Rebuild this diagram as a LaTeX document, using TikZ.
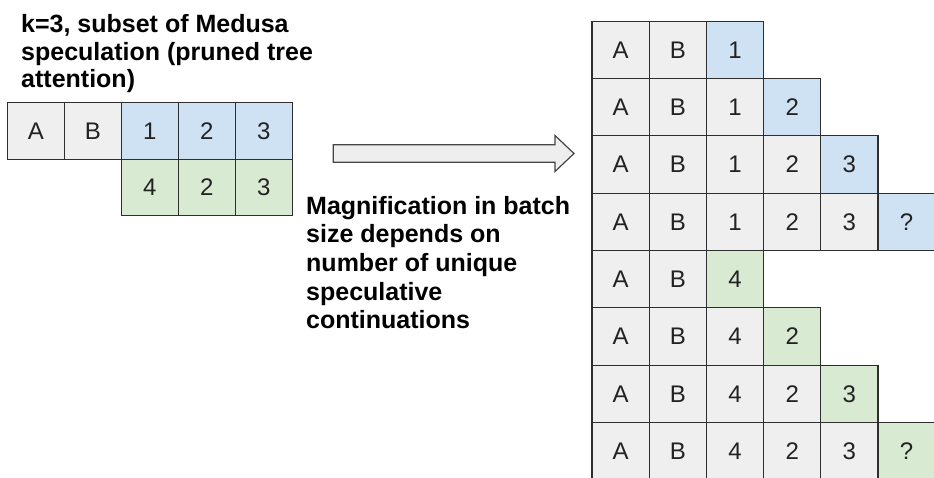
\documentclass[tikz,border=0pt]{standalone}
\usepackage{fontspec}
\setmainfont{Liberation Sans}
\definecolor{cg}{HTML}{EFEFEF}
\definecolor{cb}{HTML}{CFE2F3}
\definecolor{cn}{HTML}{D9EAD3}
\definecolor{cellborder}{HTML}{2E2E2E}
\definecolor{txt}{HTML}{222222}
\definecolor{arrowfill}{HTML}{EEEEEE}
\definecolor{arrowline}{HTML}{444444}
\begin{document}
\begin{tikzpicture}[x=1pt,y=-1pt,
  cellR/.style={draw=cellborder, line width=1.1pt, minimum width=57.2pt, minimum height=57.3pt, inner sep=0pt, font=\fontsize{24}{24}\selectfont, text=txt},
  cellL/.style={draw=cellborder, line width=1.1pt, minimum width=57pt, minimum height=56.5pt, inner sep=0pt, font=\fontsize{24}{24}\selectfont, text=txt},
  caption/.style={align=left, inner sep=0pt, anchor=north west, font=\bfseries\fontsize{25}{27.5}\selectfont, text=black},
  blockarrow/.style={fill=arrowfill, draw=arrowline, line width=1.2pt, line join=miter}]
\useasboundingbox (0,0) rectangle (934,477);
\fill[white] (0,0) rectangle (934,477);

% title
\node[caption] (title) at (21,14.5) {k=3, subset of Medusa\\speculation (pruned tree\\attention)};

% left grid
\foreach \t/\f [count=\c] in {A/cg,B/cg,1/cb,2/cb,3/cb}
  \node[cellL, fill=\f] (L1c\c) at ({7.3+57*(\c-0.5)},{102.7+56.5*0.5}) {\t};
\foreach \t/\f [count=\c from 3] in {4/cn,2/cn,3/cn}
  \node[cellL, fill=\f] (L2c\c) at ({7.3+57*(\c-0.5)},{102.7+56.5*1.5}) {\t};

% arrow
\draw[blockarrow] (333.3,144.7) -- (555,144.7) -- (555,135.5) -- (574,153.5) -- (555,171.5) -- (555,162.3) -- (333.3,162.3) -- cycle;

% middle text
\node[caption, font=\bfseries\fontsize{25}{28.6}\selectfont] (note) at (306,196) {Magnification in batch\\size depends on\\number of unique\\speculative\\continuations};

% right grid
\foreach \r/\lst in {
  1/{A/cg,B/cg,1/cb},
  2/{A/cg,B/cg,1/cg,2/cb},
  3/{A/cg,B/cg,1/cg,2/cg,3/cb},
  4/{A/cg,B/cg,1/cg,2/cg,3/cg,?/cb},
  5/{A/cg,B/cg,4/cn},
  6/{A/cg,B/cg,4/cg,2/cn},
  7/{A/cg,B/cg,4/cg,2/cg,3/cn},
  8/{A/cg,B/cg,4/cg,2/cg,3/cg,?/cn}}{
  \foreach \t/\f [count=\c] in \lst
    \node[cellR, fill=\f] (R\r c\c) at ({592+57.2*(\c-0.5)},{21.3+57.3*(\r-0.5)}) {\t};
}
\end{tikzpicture}
\end{document}
